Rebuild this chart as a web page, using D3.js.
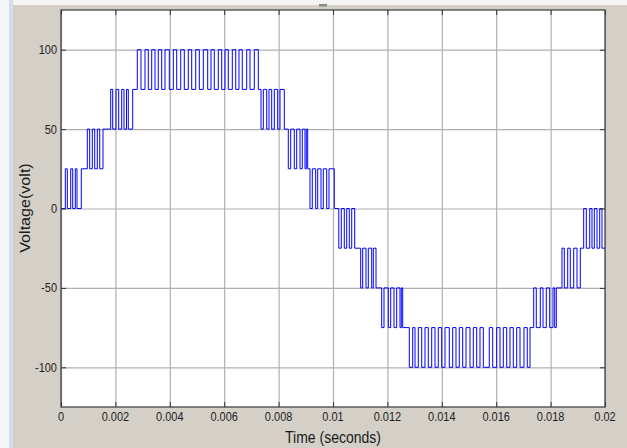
<!DOCTYPE html>
<html>
<head>
<meta charset="utf-8">
<script src="https://cdn.jsdelivr.net/npm/d3@7"></script>
<style>
  html, body { margin: 0; padding: 0; background: #d4d0c8; }
  svg { display: block; }
</style>
</head>
<body>
<svg id="chart" width="627" height="448"></svg>
<script>
// axis ticks
var xTicks = [0, 0.002, 0.004, 0.006, 0.008, 0.01, 0.012, 0.014, 0.016, 0.018, 0.02];
var xTickLabels = ["0", "0.002", "0.004", "0.006", "0.008", "0.01", "0.012", "0.014", "0.016", "0.018", "0.02"];
var yTicks = [-100, -50, 0, 50, 100];
var yTickLabels = ["-100", "-50", "0", "50", "100"];

// switching bands of the inverter output: level it sits on, level it jumps to
var bandFrom = [0, 25, 50, 75, 75, 50, 25, 0, -25, -50, -75, -75, -50, -25];
var bandTo   = [25, 50, 75, 100, 50, 25, 0, -25, -50, -75, -100, -50, -25, 0];

// switching instants (ms), one list per band
var bandEdges = [
  [0.158, 0.232, 0.357, 0.430, 0.526, 0.588, 0.746],
  [0.967, 1.055, 1.151, 1.239, 1.335, 1.423, 1.544],
  [1.827, 1.901, 2.022, 2.121, 2.232, 2.316, 2.408, 2.474, 2.636],
  [2.805, 2.941, 3.088, 3.210, 3.335, 3.456, 3.577, 3.702, 3.824, 3.982,
   4.129, 4.254, 4.401, 4.533, 4.680, 4.805, 4.952, 5.085, 5.232, 5.393,
   5.515, 5.636, 5.783, 5.908, 6.029, 6.151, 6.298, 6.423, 6.544, 6.665,
   6.827, 6.949, 7.107, 7.254],
  [7.353, 7.438, 7.563, 7.647, 7.746, 7.842, 7.967, 8.051, 8.210],
  [8.357, 8.445, 8.577, 8.665, 8.787, 8.871, 8.971, 9.018, 9.070],
  [9.154, 9.239, 9.364, 9.438, 9.559, 9.643, 9.768, 9.853, 10.048],
  [10.213, 10.305, 10.415, 10.504, 10.599, 10.688, 10.798],
  [11.018, 11.092, 11.213, 11.298, 11.423, 11.482, 11.581],
  [11.790, 11.875, 12.033, 12.121, 12.243, 12.342, 12.463, 12.511, 12.563],
  [12.805, 12.930, 13.015, 13.136, 13.261, 13.382, 13.504, 13.629, 13.750, 13.871,
   13.996, 14.118, 14.276, 14.401, 14.522, 14.643, 14.768, 14.890, 15.037, 15.158,
   15.283, 15.404, 15.526, 15.746, 15.871, 16.018, 16.140, 16.261, 16.386, 16.507,
   16.629, 16.754, 16.875, 17.022, 17.143, 17.243],
  [17.379, 17.474, 17.621, 17.721, 17.842, 17.967, 18.088, 18.151, 18.210],
  [18.419, 18.504, 18.629, 18.724, 18.849, 18.971, 19.092],
  [19.217, 19.312, 19.438, 19.522, 19.607, 19.706, 19.805, 19.890]
];

var svg = d3.select("#chart");
var W = 627, H = 448;
var plotL = 61, plotR = 605, plotT = 10, plotB = 407;

// window frame bits
svg.append("rect").attr("x", 0).attr("y", 0).attr("width", W).attr("height", H).attr("fill", "#d4d0c8");
svg.append("rect").attr("x", 0).attr("y", 0).attr("width", W).attr("height", 5).attr("fill", "#f4f4f2");
svg.append("rect").attr("x", 0).attr("y", 0).attr("width", 9).attr("height", H).attr("fill", "#f6f7f9");
svg.append("rect").attr("x", 9).attr("y", 0).attr("width", 4).attr("height", H).attr("fill", "#cfdff0");
svg.append("rect").attr("x", 319).attr("y", 4).attr("width", 8).attr("height", 2.5).attr("fill", "#8a8a8a");

var x = d3.scaleLinear().domain([0, 0.02]).range([plotL, plotR]);
var y = d3.scaleLinear().domain([-125, 125]).range([plotB, plotT]);

svg.append("rect")
  .attr("x", plotL).attr("y", plotT)
  .attr("width", plotR - plotL).attr("height", plotB - plotT)
  .attr("fill", "#ffffff");

// grid
svg.append("g")
  .attr("transform", "translate(0," + plotB + ")")
  .call(d3.axisBottom(x).tickValues(xTicks).tickSize(-(plotB - plotT)).tickFormat(""))
  .call(function (g) { g.select(".domain").remove(); })
  .selectAll("line").attr("stroke", "#b0b0b0").attr("stroke-width", 1.2);
svg.append("g")
  .attr("transform", "translate(" + plotL + ",0)")
  .call(d3.axisLeft(y).tickValues(yTicks).tickSize(-(plotR - plotL)).tickFormat(""))
  .call(function (g) { g.select(".domain").remove(); })
  .selectAll("line").attr("stroke", "#b0b0b0").attr("stroke-width", 1.2);

// waveform
var pts = [[0, 0]];
var level = 0;
bandEdges.forEach(function (edges, b) {
  edges.forEach(function (t) {
    level = (level === bandFrom[b]) ? bandTo[b] : bandFrom[b];
    pts.push([t / 1000, level]);
  });
});
pts.push([0.02, level]);

svg.append("clipPath").attr("id", "plotclip")
  .append("rect").attr("x", plotL).attr("y", plotT)
  .attr("width", plotR - plotL).attr("height", plotB - plotT);

var line = d3.line()
  .x(function (d) { return x(d[0]); })
  .y(function (d) { return y(d[1]); })
  .curve(d3.curveStepAfter);

svg.append("path")
  .datum(pts)
  .attr("clip-path", "url(#plotclip)")
  .attr("d", line)
  .attr("fill", "none")
  .attr("stroke", "#0000ff")
  .attr("stroke-width", 1);

// inward ticks on all four sides
var tickStyle = function (g) {
  g.select(".domain").remove();
  g.selectAll("line").attr("stroke", "#333").attr("stroke-width", 1);
};
svg.append("g").attr("transform", "translate(0," + plotB + ")")
  .call(d3.axisBottom(x).tickValues(xTicks).tickSize(-5).tickFormat("")).call(tickStyle);
svg.append("g").attr("transform", "translate(0," + plotT + ")")
  .call(d3.axisTop(x).tickValues(xTicks).tickSize(-5).tickFormat("")).call(tickStyle);
svg.append("g").attr("transform", "translate(" + plotL + ",0)")
  .call(d3.axisLeft(y).tickValues(yTicks).tickSize(-5).tickFormat("")).call(tickStyle);
svg.append("g").attr("transform", "translate(" + plotR + ",0)")
  .call(d3.axisRight(y).tickValues(yTicks).tickSize(-5).tickFormat("")).call(tickStyle);

// box
svg.append("rect")
  .attr("x", plotL).attr("y", plotT)
  .attr("width", plotR - plotL).attr("height", plotB - plotT)
  .attr("fill", "none").attr("stroke", "#3a3a3a").attr("stroke-width", 1.2);

// tick labels
var font = "Liberation Sans, Arial, sans-serif";
svg.append("g").selectAll("text").data(xTicks).enter().append("text")
  .attr("transform", function (d) { return "translate(" + x(d) + ",417) scale(1,1.15)"; })
  .attr("dy", "0.35em")
  .attr("text-anchor", "middle")
  .attr("font-family", font).attr("font-size", 11).attr("fill", "#222")
  .text(function (d, i) { return xTickLabels[i]; });

svg.append("g").selectAll("text").data(yTicks).enter().append("text")
  .attr("transform", function (d) { return "translate(57," + y(d) + ") scale(1,1.15)"; })
  .attr("dy", "0.35em")
  .attr("text-anchor", "end")
  .attr("font-family", font).attr("font-size", 11).attr("fill", "#222")
  .text(function (d, i) { return yTickLabels[i]; });

// axis titles
svg.append("text")
  .attr("transform", "translate(333,437) scale(1,1.15)")
  .attr("dy", "0.35em")
  .attr("text-anchor", "middle")
  .attr("font-family", font).attr("font-size", 14).attr("fill", "#1a1a1a")
  .text("Time (seconds)");

svg.append("text")
  .attr("transform", "translate(25,208) rotate(-90) scale(1.15,1)")
  .attr("dy", "0.35em")
  .attr("text-anchor", "middle")
  .attr("font-family", font).attr("font-size", 14).attr("fill", "#1a1a1a")
  .text("Voltage(volt)");
</script>
</body>
</html>
